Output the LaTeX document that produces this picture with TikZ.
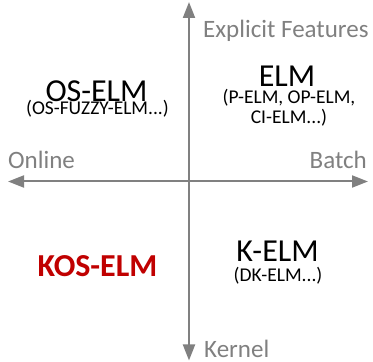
\documentclass[tikz,border=0pt]{standalone}
\usepackage{fontspec}
\setmainfont{Carlito}
\usetikzlibrary{arrows.meta,positioning}

\definecolor{axisgray}{HTML}{808080}
\definecolor{kosred}{HTML}{C00000}

\begin{document}
\begin{tikzpicture}[
  x=1bp, y=1bp,
  >={Triangle[length=16bp, width=12bp]},
  axis/.style={<->, line width=2bp, draw=axisgray},
  lbl/.style={inner sep=0pt, text=axisgray, font=\fontsize{25bp}{28bp}\selectfont},
  big/.style={inner sep=0pt, anchor=base, font=\fontsize{32bp}{36bp}\selectfont},
  sub/.style={inner sep=0pt, anchor=base, align=center,
              font=\fontsize{19.5bp}{20bp}\selectfont},
]
\useasboundingbox (0,0) rectangle (373,362);

% Axes
\coordinate (west) at (8,180.5);
\coordinate (east) at (368,180.5);
\coordinate (north) at (189,360);
\coordinate (south) at (189,1.5);
\draw[axis] (west) -- (east);
\draw[axis] (south) -- (north);

% Axis labels
\node[lbl, anchor=base west] (explicit) at (203,325) {Explicit Features};
\node[lbl, anchor=base west] (online) at (8,194) {Online};
\node[lbl, anchor=base east] (batch) at (367,194) {Batch};
\node[lbl, anchor=base west] (kernel) at (204,5) {Kernel};

% Quadrants
\node[big] (oselm) at (96.5,261) {OS-ELM};
\node[sub] (oselmsub) at (97.5,248) {(OS-FUZZY-ELM...)};

\node[big] (elm) at (287,276) {ELM};
\node[sub] (elmsub) at (289,239) {(P-ELM, OP-ELM,\\CI-ELM...)};

\node[big, text=kosred, font=\fontsize{32bp}{36bp}\selectfont\bfseries] (koselm) at (97.5,86) {KOS-ELM};

\node[big] (kelm) at (277.5,101) {K-ELM};
\node[sub] (kelmsub) at (278,81) {(DK-ELM...)};

\end{tikzpicture}
\end{document}
